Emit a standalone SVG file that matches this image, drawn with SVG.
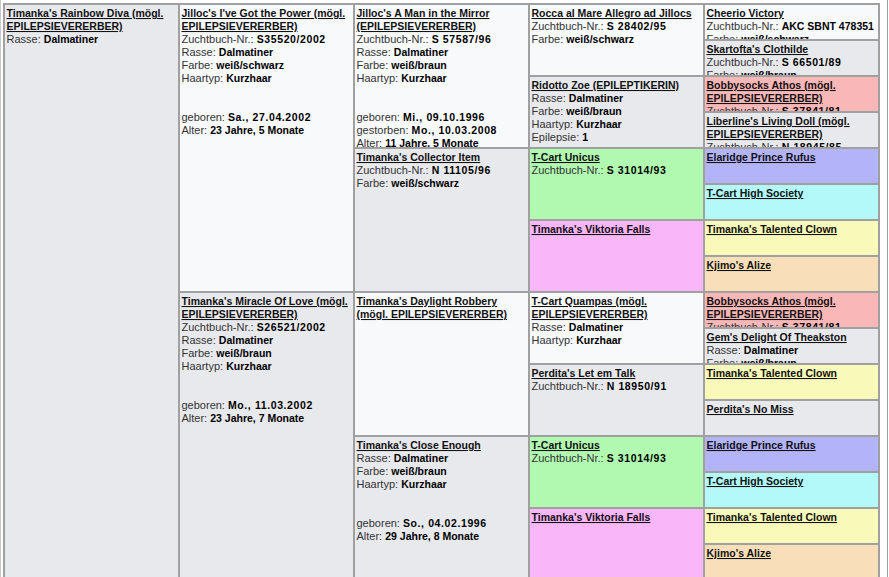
<svg xmlns="http://www.w3.org/2000/svg" width="889" height="577" viewBox="0 0 889 577">
<style>
text{font-family:"Liberation Sans",Arial,sans-serif;font-size:11px;fill:#333}
.b{font-weight:bold;font-size:10.5px;fill:#000}
.n{letter-spacing:0.6px}
.t{font-weight:bold;font-size:10.5px;fill:#111;text-decoration:underline}
.cell{stroke:#a0a0a0;stroke-width:2}
.w{fill:#f8f9fb}.g{fill:#e8e9ed}.gr{fill:#b1f9b1}.pk{fill:#f9b6f9}.rd{fill:#f9b7b7}.bl{fill:#b3b3f9}.cy{fill:#b3f9f9}.ye{fill:#f9f9b9}.pe{fill:#f9dfb9}
</style>
<defs>
<clipPath id="k1"><rect x="705" y="5" width="173" height="34"/></clipPath>
<clipPath id="k2"><rect x="705" y="41" width="173" height="34"/></clipPath>
<clipPath id="k3"><rect x="705" y="77" width="173" height="34"/></clipPath>
<clipPath id="k4"><rect x="705" y="113" width="173" height="34"/></clipPath>
<clipPath id="k5"><rect x="705" y="293" width="173" height="34"/></clipPath>
<clipPath id="k6"><rect x="705" y="329" width="173" height="34"/></clipPath>
</defs>
<rect x="0" y="0" width="889" height="577" fill="#ffffff"/>
<line x1="0.5" y1="0" x2="0.5" y2="577" stroke="#c8c8c8" stroke-width="1"/>
<line x1="887.5" y1="0" x2="887.5" y2="577" stroke="#9aa0aa" stroke-width="1"/>

<g id="n1">
<rect class="cell g" x="4" y="4" width="175" height="576"/>
<text x="6.5" y="17" class="t">Timanka's Rainbow Diva (mögl.</text>
<text x="6.5" y="30" class="t">EPILEPSIEVERERBER)</text>
<text x="6.5" y="43">Rasse: <tspan class="b">Dalmatiner</tspan></text>
</g>

<g id="n2">
<rect class="cell w" x="179" y="4" width="175" height="288"/>
<text x="181.5" y="17" class="t">Jilloc's I've Got the Power (mögl.</text>
<text x="181.5" y="30" class="t">EPILEPSIEVERERBER)</text>
<text x="181.5" y="43">Zuchtbuch-Nr.: <tspan class="b n">S35520/2002</tspan></text>
<text x="181.5" y="56">Rasse: <tspan class="b">Dalmatiner</tspan></text>
<text x="181.5" y="69">Farbe: <tspan class="b">weiß/schwarz</tspan></text>
<text x="181.5" y="82">Haartyp: <tspan class="b">Kurzhaar</tspan></text>
<text x="181.5" y="121">geboren: <tspan class="b n">Sa., 27.04.2002</tspan></text>
<text x="181.5" y="134">Alter: <tspan class="b">23 Jahre, 5 Monate</tspan></text>
</g>

<g id="n3">
<rect class="cell g" x="179" y="292" width="175" height="288"/>
<text x="181.5" y="305" class="t">Timanka's Miracle Of Love (mögl.</text>
<text x="181.5" y="318" class="t">EPILEPSIEVERERBER)</text>
<text x="181.5" y="331">Zuchtbuch-Nr.: <tspan class="b n">S26521/2002</tspan></text>
<text x="181.5" y="344">Rasse: <tspan class="b">Dalmatiner</tspan></text>
<text x="181.5" y="357">Farbe: <tspan class="b">weiß/braun</tspan></text>
<text x="181.5" y="370">Haartyp: <tspan class="b">Kurzhaar</tspan></text>
<text x="181.5" y="409">geboren: <tspan class="b n">Mo., 11.03.2002</tspan></text>
<text x="181.5" y="422">Alter: <tspan class="b">23 Jahre, 7 Monate</tspan></text>
</g>

<g id="n4">
<rect class="cell w" x="354" y="4" width="175" height="144"/>
<text x="356.5" y="17" class="t">Jilloc's A Man in the Mirror</text>
<text x="356.5" y="30" class="t">(EPILEPSIEVERERBER)</text>
<text x="356.5" y="43">Zuchtbuch-Nr.: <tspan class="b n">S 57587/96</tspan></text>
<text x="356.5" y="56">Rasse: <tspan class="b">Dalmatiner</tspan></text>
<text x="356.5" y="69">Farbe: <tspan class="b">weiß/braun</tspan></text>
<text x="356.5" y="82">Haartyp: <tspan class="b">Kurzhaar</tspan></text>
<text x="356.5" y="121">geboren: <tspan class="b n">Mi., 09.10.1996</tspan></text>
<text x="356.5" y="134">gestorben: <tspan class="b n">Mo., 10.03.2008</tspan></text>
<text x="356.5" y="147">Alter: <tspan class="b">11 Jahre, 5 Monate</tspan></text>
</g>

<g id="n5">
<rect class="cell g" x="354" y="148" width="175" height="144"/>
<text x="356.5" y="161" class="t">Timanka's Collector Item</text>
<text x="356.5" y="174">Zuchtbuch-Nr.: <tspan class="b n">N 11105/96</tspan></text>
<text x="356.5" y="187">Farbe: <tspan class="b">weiß/schwarz</tspan></text>
</g>

<g id="n6">
<rect class="cell w" x="354" y="292" width="175" height="144"/>
<text x="356.5" y="305" class="t">Timanka's Daylight Robbery</text>
<text x="356.5" y="318" class="t">(mögl. EPILEPSIEVERERBER)</text>
</g>

<g id="n7">
<rect class="cell g" x="354" y="436" width="175" height="144"/>
<text x="356.5" y="449" class="t">Timanka's Close Enough</text>
<text x="356.5" y="462">Rasse: <tspan class="b">Dalmatiner</tspan></text>
<text x="356.5" y="475">Farbe: <tspan class="b">weiß/braun</tspan></text>
<text x="356.5" y="488">Haartyp: <tspan class="b">Kurzhaar</tspan></text>
<text x="356.5" y="527">geboren: <tspan class="b n">So., 04.02.1996</tspan></text>
<text x="356.5" y="540">Alter: <tspan class="b">29 Jahre, 8 Monate</tspan></text>
</g>

<g id="n8">
<rect class="cell w" x="529" y="4" width="175" height="72"/>
<text x="531.5" y="17" class="t">Rocca al Mare Allegro ad Jillocs</text>
<text x="531.5" y="30">Zuchtbuch-Nr.: <tspan class="b n">S 28402/95</tspan></text>
<text x="531.5" y="43">Farbe: <tspan class="b">weiß/schwarz</tspan></text>
</g>

<g id="n9">
<rect class="cell g" x="529" y="76" width="175" height="72"/>
<text x="531.5" y="89" class="t">Ridotto Zoe (EPILEPTIKERIN)</text>
<text x="531.5" y="102">Rasse: <tspan class="b">Dalmatiner</tspan></text>
<text x="531.5" y="115">Farbe: <tspan class="b">weiß/braun</tspan></text>
<text x="531.5" y="128">Haartyp: <tspan class="b">Kurzhaar</tspan></text>
<text x="531.5" y="141">Epilepsie: <tspan class="b">1</tspan></text>
</g>

<g id="n10">
<rect class="cell gr" x="529" y="148" width="175" height="72"/>
<text x="531.5" y="161" class="t">T-Cart Unicus</text>
<text x="531.5" y="174">Zuchtbuch-Nr.: <tspan class="b n">S 31014/93</tspan></text>
</g>

<g id="n11">
<rect class="cell pk" x="529" y="220" width="175" height="72"/>
<text x="531.5" y="233" class="t">Timanka's Viktoria Falls</text>
</g>

<g id="n12">
<rect class="cell w" x="529" y="292" width="175" height="72"/>
<text x="531.5" y="305" class="t">T-Cart Quampas (mögl.</text>
<text x="531.5" y="318" class="t">EPILEPSIEVERERBER)</text>
<text x="531.5" y="331">Rasse: <tspan class="b">Dalmatiner</tspan></text>
<text x="531.5" y="344">Haartyp: <tspan class="b">Kurzhaar</tspan></text>
</g>

<g id="n13">
<rect class="cell g" x="529" y="364" width="175" height="72"/>
<text x="531.5" y="377" class="t">Perdita's Let em Talk</text>
<text x="531.5" y="390">Zuchtbuch-Nr.: <tspan class="b n">N 18950/91</tspan></text>
</g>

<g id="n14">
<rect class="cell gr" x="529" y="436" width="175" height="72"/>
<text x="531.5" y="449" class="t">T-Cart Unicus</text>
<text x="531.5" y="462">Zuchtbuch-Nr.: <tspan class="b n">S 31014/93</tspan></text>
</g>

<g id="n15">
<rect class="cell pk" x="529" y="508" width="175" height="72"/>
<text x="531.5" y="521" class="t">Timanka's Viktoria Falls</text>
</g>

<g id="n16">
<rect class="cell w" x="704" y="4" width="175" height="36"/>
<g clip-path="url(#k1)">
<text x="706.5" y="17" class="t">Cheerio Victory</text>
<text x="706.5" y="30">Zuchtbuch-Nr.: <tspan class="b">AKC SBNT 478351</tspan></text>
<text x="706.5" y="43">Farbe: <tspan class="b">weiß/schwarz</tspan></text>
</g>
</g>

<g id="n17">
<rect class="cell g" x="704" y="40" width="175" height="36"/>
<g clip-path="url(#k2)">
<text x="706.5" y="53" class="t">Skartofta's Clothilde</text>
<text x="706.5" y="66">Zuchtbuch-Nr.: <tspan class="b n">S 66501/89</tspan></text>
<text x="706.5" y="79">Farbe: <tspan class="b">weiß/braun</tspan></text>
</g>
</g>

<g id="n18">
<rect class="cell rd" x="704" y="76" width="175" height="36"/>
<g clip-path="url(#k3)">
<text x="706.5" y="89" class="t">Bobbysocks Athos (mögl.</text>
<text x="706.5" y="102" class="t">EPILEPSIEVERERBER)</text>
<text x="706.5" y="115">Zuchtbuch-Nr.: <tspan class="b n">S 37841/81</tspan></text>
</g>
</g>

<g id="n19">
<rect class="cell g" x="704" y="112" width="175" height="36"/>
<g clip-path="url(#k4)">
<text x="706.5" y="125" class="t">Liberline's Living Doll (mögl.</text>
<text x="706.5" y="138" class="t">EPILEPSIEVERERBER)</text>
<text x="706.5" y="151">Zuchtbuch-Nr.: <tspan class="b n">N 18945/85</tspan></text>
</g>
</g>

<g id="n20">
<rect class="cell bl" x="704" y="148" width="175" height="36"/>
<text x="706.5" y="161" class="t">Elaridge Prince Rufus</text>
</g>

<g id="n21">
<rect class="cell cy" x="704" y="184" width="175" height="36"/>
<text x="706.5" y="197" class="t">T-Cart High Society</text>
</g>

<g id="n22">
<rect class="cell ye" x="704" y="220" width="175" height="36"/>
<text x="706.5" y="233" class="t">Timanka's Talented Clown</text>
</g>

<g id="n23">
<rect class="cell pe" x="704" y="256" width="175" height="36"/>
<text x="706.5" y="269" class="t">Kjimo's Alize</text>
</g>

<g id="n24">
<rect class="cell rd" x="704" y="292" width="175" height="36"/>
<g clip-path="url(#k5)">
<text x="706.5" y="305" class="t">Bobbysocks Athos (mögl.</text>
<text x="706.5" y="318" class="t">EPILEPSIEVERERBER)</text>
<text x="706.5" y="331">Zuchtbuch-Nr.: <tspan class="b n">S 37841/81</tspan></text>
</g>
</g>

<g id="n25">
<rect class="cell g" x="704" y="328" width="175" height="36"/>
<g clip-path="url(#k6)">
<text x="706.5" y="341" class="t">Gem's Delight Of Theakston</text>
<text x="706.5" y="354">Rasse: <tspan class="b">Dalmatiner</tspan></text>
<text x="706.5" y="367">Farbe: <tspan class="b">weiß/braun</tspan></text>
</g>
</g>

<g id="n26">
<rect class="cell ye" x="704" y="364" width="175" height="36"/>
<text x="706.5" y="377" class="t">Timanka's Talented Clown</text>
</g>

<g id="n27">
<rect class="cell g" x="704" y="400" width="175" height="36"/>
<text x="706.5" y="413" class="t">Perdita's No Miss</text>
</g>

<g id="n28">
<rect class="cell bl" x="704" y="436" width="175" height="36"/>
<text x="706.5" y="449" class="t">Elaridge Prince Rufus</text>
</g>

<g id="n29">
<rect class="cell cy" x="704" y="472" width="175" height="36"/>
<text x="706.5" y="485" class="t">T-Cart High Society</text>
</g>

<g id="n30">
<rect class="cell ye" x="704" y="508" width="175" height="36"/>
<text x="706.5" y="521" class="t">Timanka's Talented Clown</text>
</g>

<g id="n31">
<rect class="cell pe" x="704" y="544" width="175" height="36"/>
<text x="706.5" y="557" class="t">Kjimo's Alize</text>
</g>

<g id="connectors"></g>
</svg>
